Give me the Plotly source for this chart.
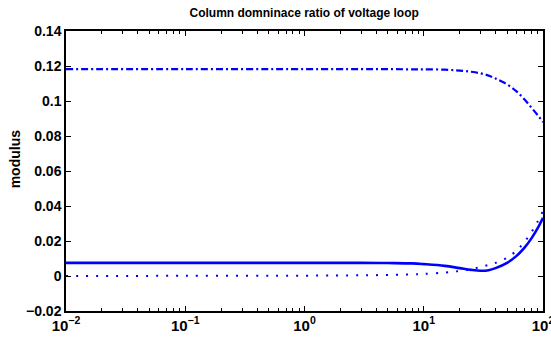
import plotly.graph_objects as go

freq = [0.01, 0.1, 1, 3, 5, 8, 10, 15, 20, 25, 30, 35, 40, 50, 60, 70, 80, 90, 100]
dashdot_vals = [0.1182, 0.1182, 0.1182, 0.1182, 0.1182, 0.1181, 0.1181, 0.1179, 0.1174, 0.1167,
                0.1158, 0.1145, 0.1128, 0.1095, 0.1055, 0.1008, 0.0962, 0.0920, 0.0880]
solid_vals = [0.0075, 0.0075, 0.0075, 0.0075, 0.0074, 0.0072, 0.0068, 0.0058, 0.0045, 0.0035,
              0.0030, 0.0033, 0.0045, 0.0075, 0.0115, 0.0162, 0.0215, 0.0272, 0.0333]
dotted_vals = [0.0000, 0.0001, 0.0002, 0.0004, 0.0006, 0.0009, 0.0012, 0.0020, 0.0029, 0.0039,
               0.0052, 0.0063, 0.0075, 0.0105, 0.0145, 0.0195, 0.0250, 0.0310, 0.0371]

title = "Column domninace ratio of voltage loop"
ylabel = "modulus"
xtickvals = [0.01, 0.1, 1, 10, 100]
xticktext = ["10<sup>\u22122</sup>", "10<sup>\u22121</sup>", "10<sup>0</sup>", "10<sup>1</sup>", "10<sup>2</sup>"]
ytickvals = [-0.02, 0, 0.02, 0.04, 0.06, 0.08, 0.1, 0.12, 0.14]
yticktext = ["\u22120.02", "0", "0.02", "0.04", "0.06", "0.08", "0.1", "0.12", "0.14"]

blue = "rgb(0,0,255)"
fig = go.Figure()
fig.add_trace(go.Scatter(x=freq, y=dashdot_vals, mode="lines",
                         line=dict(color=blue, width=2.2, dash="7px,3px,2px,3px", shape="spline")))
fig.add_trace(go.Scatter(x=freq, y=solid_vals, mode="lines",
                         line=dict(color=blue, width=2.6, shape="spline")))
fig.add_trace(go.Scatter(x=freq, y=dotted_vals, mode="lines",
                         line=dict(color=blue, width=2, dash="2px,8px", shape="spline")))

font = "Liberation Sans, Arial, sans-serif"
fig.update_layout(
    width=551, height=337,
    margin=dict(l=66, r=8, t=31, b=26, autoexpand=False),
    paper_bgcolor="white", plot_bgcolor="white",
    showlegend=False,
    title=dict(text="<b>" + title + "</b>", x=0.552, xanchor="center", y=0.962, yanchor="middle",
               font=dict(family=font, size=12, color="black")),
    font=dict(family=font, color="black"),
    annotations=[dict(text="<b>" + ylabel + "</b>", xref="paper", yref="paper",
                      x=-0.107, y=0.545, xanchor="center", yanchor="middle", textangle=-90,
                      showarrow=False, font=dict(family=font, size=14, color="black"))],
)
fig.update_xaxes(
    type="log", range=[-2, 2], tickvals=xtickvals, ticktext=xticktext,
    ticklabeloverflow="allow",
    showgrid=False, zeroline=False, automargin=False,
    showline=True, linecolor="black", linewidth=1.5, mirror="allticks",
    ticks="inside", ticklen=5, tickcolor="black", tickwidth=1,
    minor=dict(ticks="inside", ticklen=3, tickcolor="black", tickwidth=1, showgrid=False, dtick="D1"),
    tickfont=dict(family=font, size=15, color="black", weight="bold"),
)
fig.update_yaxes(
    range=[-0.02, 0.14], tickvals=ytickvals, ticktext=yticktext,
    showgrid=False, zeroline=False, automargin=False,
    showline=True, linecolor="black", linewidth=1.5, mirror="allticks",
    ticks="inside", ticklen=5, tickcolor="black", tickwidth=1,
    tickfont=dict(family=font, size=14, color="black", weight="bold"),
)
fig.write_html("out.html", config={"displayModeBar": False},
               post_script="document.body.style.margin='0';document.body.style.overflow='hidden';")
